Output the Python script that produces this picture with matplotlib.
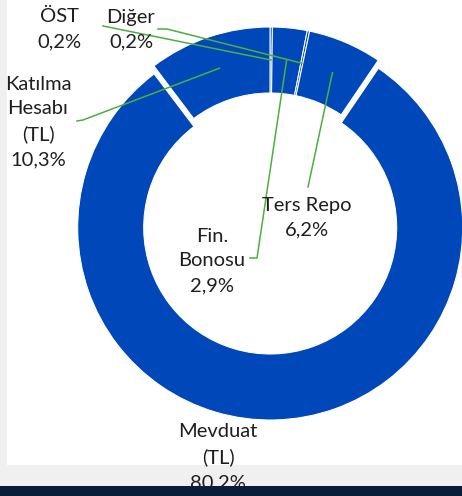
import numpy as np
import matplotlib
matplotlib.use('Agg')
from matplotlib import pyplot as plt
from matplotlib.patches import Rectangle

plt.rcParams['font.family'] = ['Lato', 'DejaVu Sans']

# data, clockwise from 12 o'clock
labels = ['ÖST\n0,2%', 'Fin.\nBonosu\n2,9%', 'Diğer\n0,2%', 'Ters Repo\n6,2%',
          'Mevduat\n(TL)\n80,2%', 'Katılma\nHesabı\n(TL)\n10,3%']
values = [0.2, 2.9, 0.2, 6.2, 80.2, 10.3]
explode_px = [0, 0, 0, 0, 8, 0]

# layout (pixel coords, y down)
W, H = 462, 496
cx, cy = 270, 219.5
R_out, ring = 192.5, 66
label_pos = [(59, 29), (212, 261), (131, 30), (307, 218), (218, 457), (38, 122)]
# label side of the leader lines (None = no leader)
leader_start = [[(103, 26)], [(250, 258), (257, 258)], [(158, 29), (167, 29)],
                [(308, 187)], None, [(77, 121), (83, 120)]]

blue = '#0048ba'
green = '#4caf3f'
txt = '#1f1f1f'


def Y(yp):
    return H - yp


fig = plt.figure(figsize=(W / 100, H / 100), dpi=100)
fig.patch.set_facecolor('#f0f0f0')
ax = fig.add_axes([0, 0, 1, 1])
ax.add_patch(Rectangle((7, Y(465)), W - 7, 465, facecolor='white', edgecolor='none', zorder=0))

ax.pie(values, startangle=90, counterclock=False, colors=[blue] * len(values),
       radius=R_out, center=(cx, Y(cy)), explode=explode_px,
       wedgeprops=dict(width=ring, edgecolor='white', linewidth=0.75))
ax.set_xlim(0, W)
ax.set_ylim(0, H)
ax.set_aspect('equal')
ax.axis('off')

# leader lines to middle of the ring
r_mid = R_out - ring / 2
frac = np.array(values) / np.sum(values)
cum = np.cumsum(frac)
mids = cum - frac / 2
for i, m in enumerate(mids):
    pts = leader_start[i]
    if pts is None:
        continue
    a = 2 * np.pi * m
    ax_x = cx + r_mid * np.sin(a)
    ax_y = cy - r_mid * np.cos(a)
    xs = [p[0] for p in pts] + [ax_x]
    ys = [Y(p[1]) for p in pts] + [Y(ax_y)]
    ax.plot(xs, ys, color=green, lw=1.1, zorder=5)

for lab, (lx, ly) in zip(labels, label_pos):
    ax.text(lx, Y(ly), lab, ha='center', va='center', fontsize=14.5, color=txt,
            linespacing=1.55, zorder=6)

ax.add_patch(Rectangle((0, 0), W, H - 486, facecolor='#0b1c38', edgecolor='none', zorder=10))

fig.savefig('out.png', dpi=100, facecolor=fig.get_facecolor())
